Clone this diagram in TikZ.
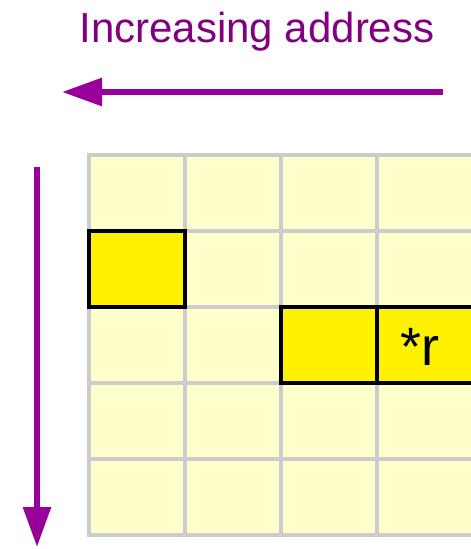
\documentclass[tikz,border=0pt]{standalone}
\usepackage{fontspec}
\setmainfont{Liberation Sans}
\usetikzlibrary{arrows.meta}
\definecolor{arrowpurple}{HTML}{990099}
\definecolor{textpurple}{HTML}{800080}
\definecolor{cellfill}{HTML}{FFFFCC}
\definecolor{cellline}{HTML}{CCCCCC}

\begin{document}
\begin{tikzpicture}[x=1pt, y=-1pt]
    \tikzset{
        cell/.style={
            draw=cellline, fill=cellfill, line width=3.5pt,
            minimum width=96pt, minimum height=76pt,
            inner sep=0pt, outer sep=0pt
        },
        picked/.style={
            cell, draw=black, fill=yellow, line width=3.5pt
        },
        dirarrow/.style={
            draw=arrowpurple, line width=6pt,
            -{Triangle[length=40pt, width=27pt]}
        },
    }
    \useasboundingbox (0,0) rectangle (471,549);
    \clip (0,0) rectangle (471,549);

    % ==== Memory grid ====
    \foreach \col in {0,...,4} {
        \foreach \row in {0,...,4} {
            \node[cell] (c-\col-\row) at (137+96*\col, 193+76*\row) {};
        }
    }

    % ==== Selected cells ====
    \node[picked] (p1) at (c-0-1.center) {};
    \node[picked] (p2) at (c-2-2.center) {};
    \node[picked] (p3) at (c-3-2.center) {};
    \node[font=\fontsize{54}{60}\selectfont, inner sep=0pt] (ptr) at (420,347) {*r};

    % ==== Direction arrows ====
    \node[text=textpurple, font=\fontsize{42}{50}\selectfont,
          anchor=base, inner sep=0pt] (title) at (257,42) {Increasing address};
    \coordinate (hstart) at (443,92);
    \coordinate (hend) at (62,92);
    \draw[dirarrow] (hstart) -- (hend);
    \coordinate (vstart) at (37,167);
    \coordinate (vend) at (37,547);
    \draw[dirarrow] (vstart) -- (vend);

\end{tikzpicture}
\end{document}
